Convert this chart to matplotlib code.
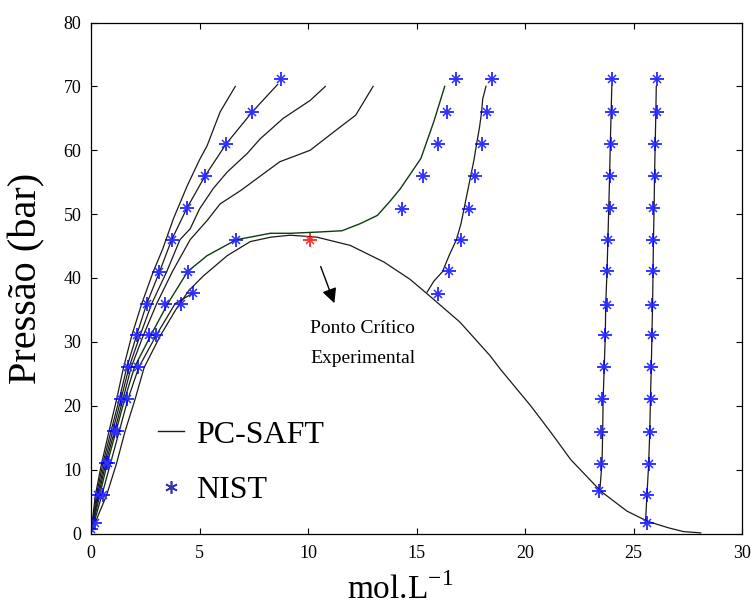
import matplotlib
matplotlib.use('Agg')
import matplotlib.pyplot as plt
from matplotlib.lines import Line2D

plt.rcParams['font.family'] = ['Liberation Serif', 'DejaVu Serif']
plt.rcParams['mathtext.fontset'] = 'custom'
plt.rcParams['mathtext.rm'] = 'Liberation Serif'

# PC-SAFT isotherms (x = mol/L, y = bar)
iso_a_x = [0, 0.2, 0.49, 0.83, 1.18, 1.5, 1.88, 2.34, 2.87, 3.3, 3.8, 4.43, 5.0, 5.35, 5.95, 6.3, 6.65]
iso_a_y = [0, 6, 11, 16, 21, 26, 31, 36, 41, 44.5, 49.3, 54.4, 58.5, 60.7, 66, 68, 70]

iso_b_x = [0, 0.25, 0.55, 0.92, 1.3, 1.65, 2.1, 2.57, 3.16, 3.72, 4.43, 5.26, 6.23, 7.43, 8.6]
iso_b_y = [0, 6, 11, 16, 21, 26, 31, 36, 41, 46, 51, 56, 61, 66, 70.3]

iso_c_x = [0, 0.3, 0.62, 1.0, 1.38, 1.75, 2.26, 2.8, 3.49, 4.1, 4.57, 5.0, 5.63, 6.28, 7.2, 7.8, 8.86, 10.1, 10.8]
iso_c_y = [0, 6, 11, 16, 21, 26, 31, 36, 41, 46, 47.7, 50.8, 54, 56.6, 59.5, 61.8, 65, 67.8, 70]

iso_d_x = [0, 0.35, 0.68, 1.08, 1.47, 1.85, 2.41, 3.03, 3.75, 4.57, 5.35, 5.95, 6.9, 8.7, 10.1, 11.2, 12.2, 13.0]
iso_d_y = [0, 6, 11, 16, 21, 26, 31, 36, 41, 46, 49, 51.6, 53.7, 58.2, 60, 62.9, 65.5, 70]

iso_e_x = [0, 0.4, 0.75, 1.15, 1.55, 2.0, 2.75, 3.54, 4.45, 5.35, 6.7, 7.34, 8.26, 9.18, 10.5, 11.57,
           12.4, 13.2, 13.8, 14.26, 15.2, 15.8, 16.3]
iso_e_y = [0, 6, 11, 16, 21, 26, 31, 36, 41, 43.5, 46, 46.4, 47.0, 47.0, 47.2, 47.4,
           48.5, 49.8, 52.1, 54, 58.7, 64.5, 70]

iso_f_vap_x = [0, 0.5, 0.9, 1.3, 1.7, 2.2, 3.0, 3.88, 4.68]
iso_f_vap_y = [0, 6, 11, 16, 21, 26, 31, 36, 37.6]
iso_f_liq_x = [15.49, 15.8, 16.2, 16.5, 16.84, 17.05, 17.2, 17.35, 17.5, 17.65, 17.77, 17.9, 18.0, 18.05, 18.2]
iso_f_liq_y = [37.8, 39.5, 41, 43.5, 46, 48.5, 51, 53.5, 56, 58.5, 61, 63.5, 66, 68, 70]

iso_g_x = [23.45, 23.5, 23.55, 23.58, 23.6, 23.65, 23.7, 23.72, 23.78, 23.82, 23.86, 23.9, 23.93, 23.97, 24.0]
iso_g_y = [6.8, 9, 11, 16, 21, 26, 31, 36, 41, 46, 51, 56, 61, 66, 70]

iso_h_x = [25.55, 25.62, 25.7, 25.75, 25.78, 25.82, 25.85, 25.88, 25.9, 25.92, 25.95, 25.97, 26.0, 26.03, 26.05]
iso_h_y = [1.6, 6, 11, 16, 21, 26, 31, 36, 41, 46, 51, 56, 61, 66, 70]

# saturation curve
dome_x = [0, 0.35, 0.72, 1.18, 1.57, 2.03, 2.45, 3.2, 3.9, 4.5, 5.17, 6.28, 7.34, 8.3, 9.18, 10.4, 11.95,
          13.5, 14.7, 15.5, 17.0, 18.4, 18.87, 20.26, 21.2, 22.1, 23.5, 24.7, 25.65, 26.6, 27.3, 28.1]
dome_y = [0, 3, 6, 11, 16, 21, 26, 31, 35, 38, 40.3, 43.5, 45.7, 46.4, 46.7, 46.4, 45.1,
          42.5, 39.8, 37.5, 33.1, 27.8, 25.7, 20, 15.8, 11.6, 6.6, 3.5, 1.9, 0.9, 0.3, 0.1]

# NIST points
nist_x = [8.77, 7.43, 6.23, 5.26, 4.43, 3.74, 3.14, 2.58, 2.1, 1.69, 1.38, 1.07, 0.68, 0.34, 0.18, 0.0,
          16.8, 16.4, 15.97, 15.3, 14.35, 6.69, 4.48, 3.41, 2.65, 2.15, 1.65, 1.18, 0.77, 0.57,
          18.5, 18.27, 18.0, 17.7, 17.4, 17.07, 16.5, 16.0, 4.68, 4.14, 3.0,
          24.03, 24.03, 23.98, 23.92, 23.92, 23.83, 23.77, 23.77, 23.69, 23.64, 23.57, 23.49, 23.52, 23.41,
          26.07, 26.07, 25.99, 25.98, 25.92, 25.92, 25.92, 25.87, 25.83, 25.8, 25.8, 25.75, 25.72, 25.64, 25.6]
nist_y = [71.2, 66, 61, 56, 51, 46, 41, 36, 31, 26, 21, 16, 11, 6.1, 1.7, 0.7,
          71.1, 66, 61, 56, 50.8, 46, 41, 36, 31, 26, 21, 16, 11, 6.1,
          71.1, 66, 61, 56, 50.8, 46, 41.1, 37.5, 37.6, 36, 31,
          71.1, 66, 61, 56, 50.9, 46, 41.1, 35.8, 31, 26, 21, 15.9, 10.9, 6.7,
          71.1, 66, 61, 56, 50.9, 46, 41.1, 35.8, 31, 26, 21, 15.9, 10.9, 6.1, 1.7]

crit_x = [10.1]
crit_y = [46.0]

fig = plt.figure(figsize=(7.53, 6.08), dpi=100)
ax = fig.add_axes([91/753, 1 - 533.5/608, 651/753, 511/608])

line_col = '#1a1a1a'
for xs, ys in [(iso_a_x, iso_a_y), (iso_b_x, iso_b_y), (iso_c_x, iso_c_y), (iso_d_x, iso_d_y),
               (iso_f_vap_x, iso_f_vap_y), (iso_f_liq_x, iso_f_liq_y), (iso_g_x, iso_g_y),
               (iso_h_x, iso_h_y), (dome_x, dome_y)]:
    ax.plot(xs, ys, color=line_col, lw=0.9)
ax.plot(iso_e_x, iso_e_y, color='#103a10', lw=1.0)

# matlab style '*' marker = plus + cross
ax.plot(nist_x, nist_y, ls='none', marker='+', ms=9.5, mew=1.1, color='#0000ff')
ax.plot(nist_x, nist_y, ls='none', marker='x', ms=6, mew=1.1, color='#3030ff')
ax.plot(crit_x, crit_y, ls='none', marker='+', ms=9.5, mew=1.1, color='#ff0000')
ax.plot(crit_x, crit_y, ls='none', marker='x', ms=6, mew=1.1, color='#ff3030')

ax.annotate('', xy=(11.26, 35.65), xytext=(10.54, 42.2),
            arrowprops=dict(arrowstyle='-|>', color='k', lw=1.0, mutation_scale=22))
ax.text(10.1, 31.4, 'Ponto Crítico', fontsize=14, va='baseline', ha='left')
ax.text(10.1, 26.7, 'Experimental', fontsize=14, va='baseline', ha='left')

handles = [Line2D([], [], color=line_col, lw=1.0),
           Line2D([], [], ls='none', marker=(6, 2, 0), ms=9, mew=1.2, color='#3333aa')]
ax.legend(handles, ['PC-SAFT', 'NIST'], loc='upper left', bbox_to_anchor=(0.059, 0.278),
          frameon=False, fontsize=23, handlelength=0.8, handletextpad=0.4, labelspacing=0.83)

ax.set_xlim(0, 30)
ax.set_ylim(0, 80)
ax.set_xticks(range(0, 31, 5))
ax.set_yticks(range(0, 81, 10))
ax.tick_params(direction='in', top=True, right=True, length=4, width=0.8, labelsize=13)
ax.tick_params(axis='x', pad=8)
ax.tick_params(axis='y', pad=7)
for s in ax.spines.values():
    s.set_linewidth(0.9)

ax.set_xlabel(r'mol.L$^{\mathrm{-1}}$', fontsize=24)
ax.set_ylabel('Pressão (bar)', fontsize=29)
ax.xaxis.set_label_coords(0.475, -0.078)
ax.yaxis.set_label_coords(-0.07, 0.5)

fig.savefig('out.png', dpi=100)
